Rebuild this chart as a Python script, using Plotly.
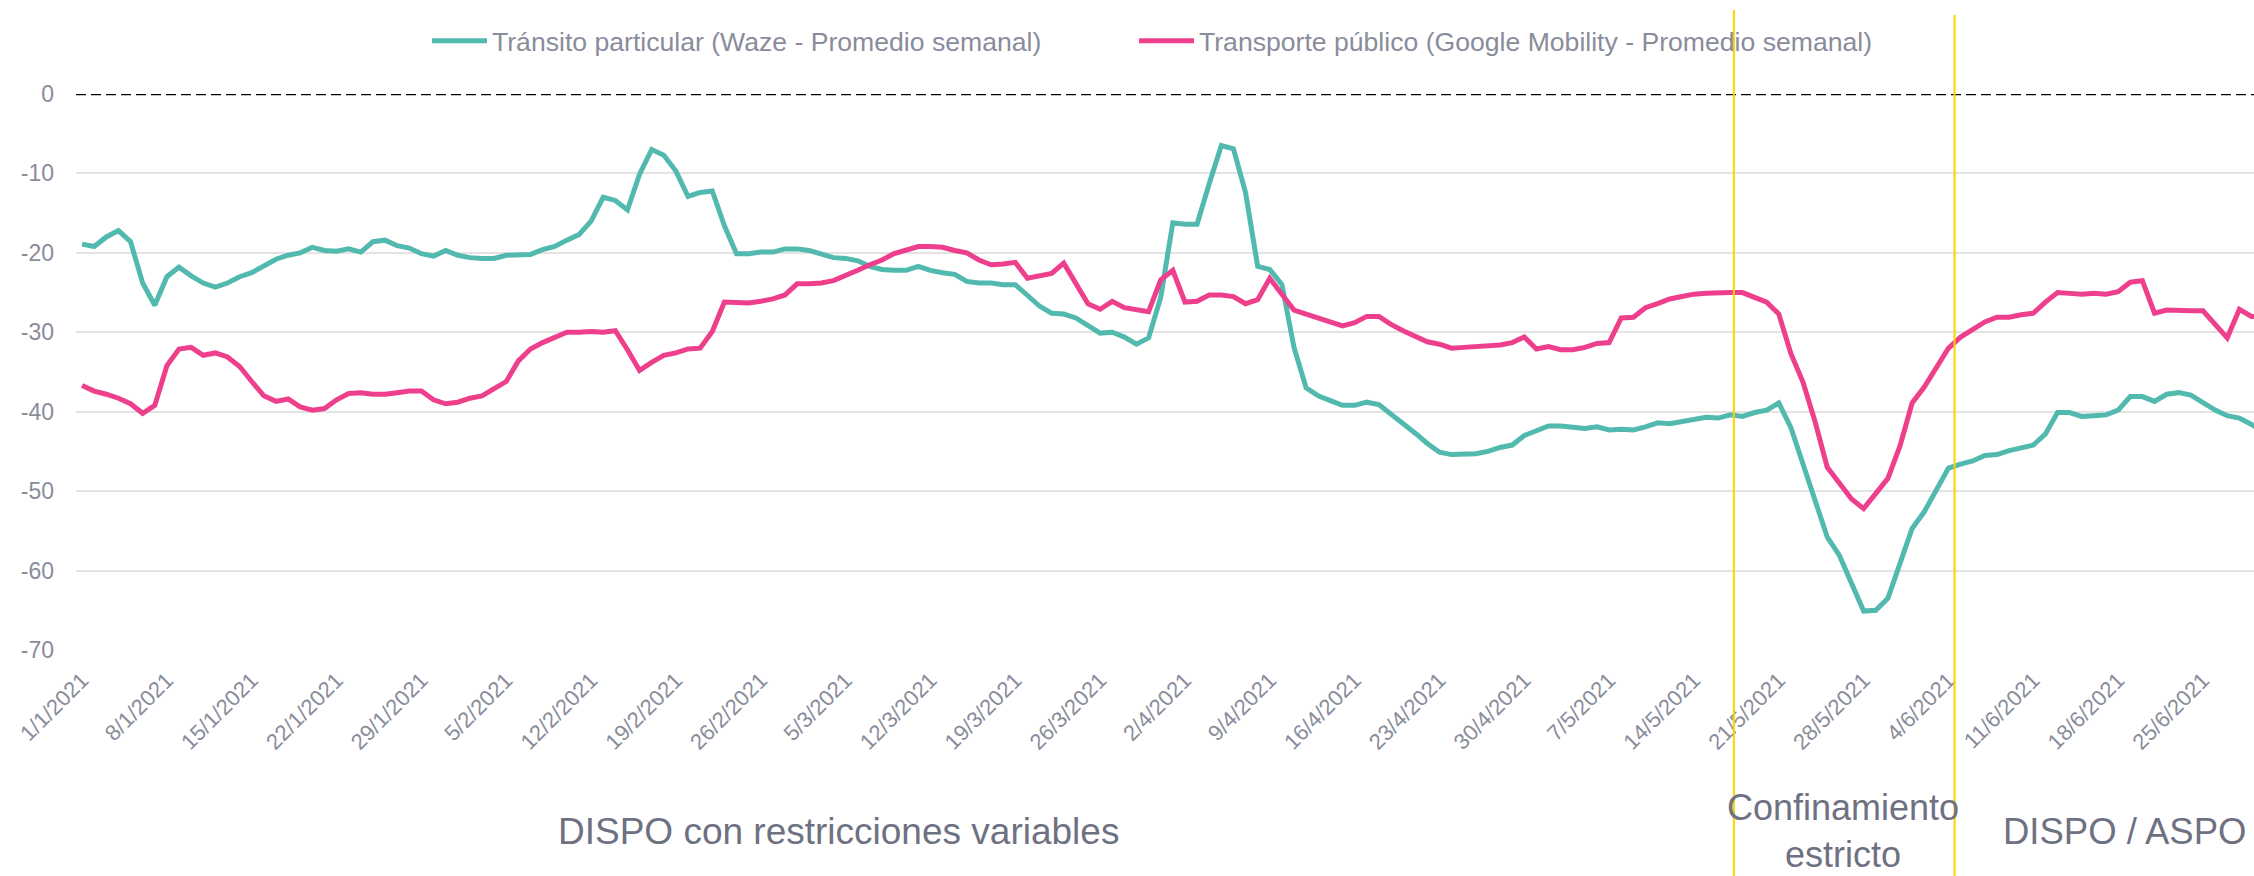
import pandas as pd
import plotly.graph_objects as go

start_date = "2021-01-01"

waze = [
    -18.9, -19.2, -18.0, -17.2, -18.6, -23.8, -26.6, -23.0, -21.8, -22.9,
    -23.8, -24.3, -23.8, -23.0, -22.5, -21.7, -20.8, -20.3, -20.0, -19.3,
    -19.7, -19.8, -19.5, -19.9, -18.6, -18.4, -19.1, -19.4, -20.1, -20.4,
    -19.7, -20.3, -20.6, -20.7, -20.7, -20.3, -20.2, -20.2, -19.6, -19.2,
    -18.4, -17.7, -16.0, -13.0, -13.4, -14.6, -10.1, -7.0, -7.7, -9.7,
    -12.9, -12.4, -12.2, -16.6, -20.1, -20.1, -19.9, -19.9, -19.5, -19.5,
    -19.7, -20.1, -20.6, -20.7, -21.0, -21.7, -22.1, -22.2, -22.2, -21.7,
    -22.2, -22.5, -22.7, -23.6, -23.8, -23.8, -24.0, -24.0, -25.4, -26.7,
    -27.6, -27.7, -28.2, -29.2, -30.1, -30.0, -30.6, -31.5, -30.7, -25.6,
    -16.2, -16.4, -16.4, -11.3, -6.5, -6.9, -12.4, -21.7, -22.1, -24.0,
    -31.9, -37.0, -38.0, -38.6, -39.2, -39.2, -38.8, -39.1, -40.3, -41.4,
    -42.7, -44.0, -45.1, -45.4, -45.3, -45.3, -45.0, -44.5, -44.2, -43.0,
    -42.4, -41.8, -41.8, -41.9, -42.1, -41.9, -42.3, -42.2, -42.3, -41.9,
    -41.4, -41.5, -41.2, -40.9, -40.7, -40.8, -40.4, -40.6, -40.1, -39.8,
    -38.9, -42.0, -46.6, -51.6, -55.8, -58.1, -61.5, -65.1, -65.0, -63.5,
    -59.1, -54.7, -52.6, -49.9, -47.1, -46.6, -46.2, -45.5, -45.4, -44.9,
    -44.6, -44.2, -42.8, -40.1, -40.1, -40.6, -40.5, -40.4, -39.8, -38.1,
    -38.1, -38.7, -37.8, -37.6, -37.9, -38.8, -39.8, -40.5, -40.8, -41.6,
    -42.6,
]

google = [
    -36.7, -37.4, -37.8, -38.3, -39.0, -40.2, -39.2, -34.2, -32.1, -31.9,
    -32.9, -32.6, -33.1, -34.3, -36.2, -38.0, -38.7, -38.4, -39.4, -39.8,
    -39.6, -38.5, -37.7, -37.6, -37.8, -37.8, -37.6, -37.4, -37.4, -38.5,
    -39.0, -38.8, -38.3, -38.0, -37.1, -36.2, -33.6, -32.1, -31.3, -30.6,
    -30.0, -30.0, -29.9, -30.0, -29.8, -32.2, -34.8, -33.8, -32.9, -32.6,
    -32.1, -32.0, -29.9, -26.2, -26.3, -26.3, -26.1, -25.8, -25.3, -23.9,
    -23.9, -23.8, -23.5, -22.9, -22.2, -21.5, -20.9, -20.1, -19.6, -19.2,
    -19.2, -19.3, -19.7, -20.0, -20.9, -21.5, -21.4, -21.2, -23.2, -22.9,
    -22.6, -21.3, -23.9, -26.4, -27.1, -26.1, -26.9, -27.1, -27.4, -23.4,
    -22.2, -26.2, -26.1, -25.3, -25.3, -25.5, -26.4, -25.9, -23.2, -25.2,
    -27.2, -27.7, -28.2, -28.8, -29.2, -28.8, -28.0, -28.0, -29.0, -29.8,
    -30.5, -31.2, -31.5, -32.0, -31.9, -31.8, -31.8, -31.6, -31.3, -30.6,
    -32.1, -31.8, -32.2, -32.2, -31.9, -31.4, -31.3, -28.2, -28.1, -26.9,
    -26.4, -25.8, -25.5, -25.2, -25.1, -25.0, -25.0, -25.0, -25.6, -26.2,
    -27.7, -32.7, -36.3, -41.3, -47.0, -49.0, -51.0, -52.2, -50.3, -48.4,
    -44.3, -38.9, -36.9, -34.4, -32.0, -30.6, -29.6, -28.7, -28.1, -28.1,
    -27.8, -27.6, -26.2, -25.0, -25.1, -25.2, -25.1, -25.2, -24.9, -23.7,
    -23.5, -27.6, -27.2, -27.3, -27.3, -27.3, -29.0, -30.7, -27.1, -28.0,
    -28.0,
]

series_names = [
    "Tránsito particular (Waze - Promedio semanal)",
    "Transporte público (Google Mobility - Promedio semanal)",
]
series_colors = ["#52B9AF", "#EE3F8C"]

y_ticks = [0, -10, -20, -30, -40, -50, -60, -70]
y_tick_labels = ["0", "-10", "-20", "-30", "-40", "-50", "-60", "-70"]

x_tick_dates = pd.date_range("2021-01-01", "2021-06-25", freq="7D")

phase_bounds = ["2021-05-17 07:00", "2021-06-04 12:00"]
phase_labels = ["DISPO con restricciones variables", "Confinamiento<br>estricto", "DISPO / ASPO"]

dates = pd.date_range(start_date, periods=len(waze), freq="D")

W, H = 2254, 876
L, R, T, B = 76, 0, 94, 226
plot_w = W - L - R
plot_h = H - T - B


def px_x(p):
    return (p - L) / plot_w


def px_y(p):
    return (H - B - p) / plot_h


fig = go.Figure()
for i, (name, vals, col) in enumerate(zip(series_names, [waze, google], series_colors)):
    fig.add_trace(go.Scatter(
        x=dates, y=vals, name=name, mode="lines",
        line=dict(color=col, width=5),
        legend="legend" if i == 0 else "legend2",
    ))

gray = "#898C9A"
dark = "#6E7181"

shapes = [
    dict(type="line", xref="paper", yref="y", x0=0, x1=1, y0=0, y1=0,
         line=dict(color="white", width=4), layer="above"),
    dict(type="line", xref="paper", yref="y", x0=0, x1=1, y0=0, y1=0,
         line=dict(color="black", width=2.6, dash="10px,5px"), layer="above"),
]
for b, ytop in zip(phase_bounds, [10, 15]):
    shapes.append(dict(type="line", xref="x", yref="paper", x0=b, x1=b,
                       y0=px_y(ytop), y1=px_y(H + 5),
                       line=dict(color="#FFD200", width=2), layer="above"))

annotations = [
    dict(text=phase_labels[0], xref="paper", yref="paper", x=px_x(838), y=px_y(831),
         xanchor="center", yanchor="middle", showarrow=False,
         font=dict(size=37, color=dark)),
    dict(text=phase_labels[1], xref="paper", yref="paper", x=px_x(1843), y=px_y(876.5),
         xanchor="center", yanchor="bottom", showarrow=False,
         font=dict(size=36, color=dark)),
    dict(text=phase_labels[2], xref="paper", yref="paper", x=px_x(2001), y=px_y(831),
         xanchor="left", yanchor="middle", showarrow=False,
         font=dict(size=36.5, color=dark)),
]

legend_style = dict(orientation="h", yanchor="middle", xanchor="left",
                    font=dict(size=26.6, color=gray), bgcolor="rgba(0,0,0,0)",
                    itemwidth=55)

fig.update_layout(
    width=W, height=H, autosize=False,
    margin=dict(l=L, r=R, t=T, b=B, pad=0, autoexpand=False),
    paper_bgcolor="white", plot_bgcolor="white",
    font=dict(family="Arial, Liberation Sans, sans-serif", color=gray),
    showlegend=True,
    legend=dict(x=px_x(427), y=px_y(41), **legend_style),
    legend2=dict(x=px_x(1134), y=px_y(41), **legend_style),
    xaxis=dict(
        type="date",
        range=["2020-12-31 12:00", "2021-06-29 05:00"],
        tickvals=x_tick_dates, tickformat="%-d/%-m/%Y", tickangle=-45,
        tickfont=dict(size=22, color=gray),
        showgrid=False, showline=False, zeroline=False, ticks="",
        automargin=False, ticklabelstandoff=12,
    ),
    yaxis=dict(
        range=[-70, 0],
        tickvals=y_ticks, ticktext=y_tick_labels,
        tickfont=dict(size=23, color=gray),
        showgrid=True, gridcolor="#E3E3E3", gridwidth=2,
        zeroline=False, showline=False, ticks="", ticklabelstandoff=21,
        automargin=False,
    ),
    shapes=shapes,
    annotations=annotations,
)

fig.write_html(
    "out.html",
    config={"displayModeBar": False},
    post_script="document.body.style.margin='0';document.body.style.padding='0';"
                "document.documentElement.style.overflow='hidden';",
)
